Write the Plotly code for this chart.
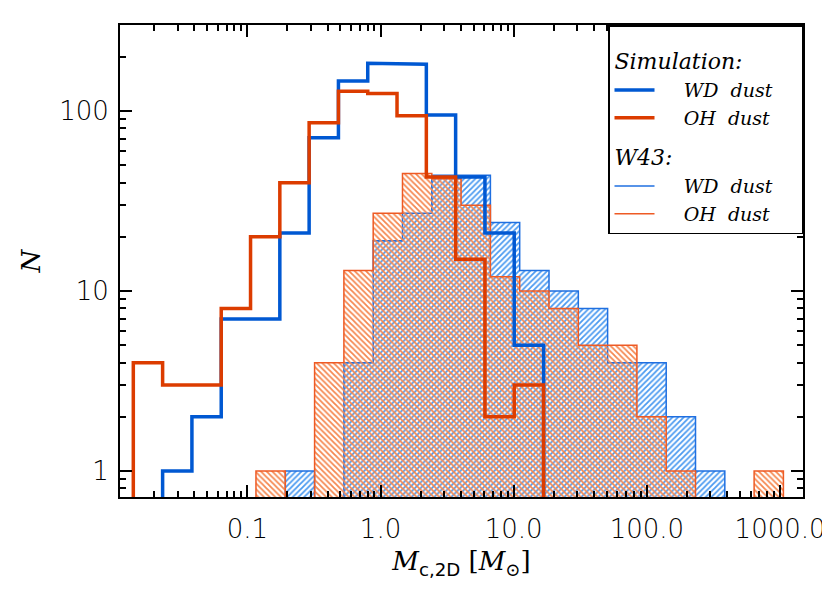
import plotly.graph_objects as go

# bin edges (solar masses)
sim_edges = [0.01393, 0.02312, 0.03837, 0.06368, 0.1057, 0.1754, 0.2911, 0.4831,
             0.8017, 1.330, 2.208, 3.664, 6.081, 10.09, 16.75]
w43_edges = [0.1161, 0.1928, 0.3199, 0.5309, 0.8810, 1.462, 2.427, 4.027, 6.683,
             11.09, 18.41, 30.55, 50.70, 84.14, 139.6, 231.7, 384.6, 638.3, 1059.0]

# counts per bin
sim_wd = [0, 1, 2, 7, 7, 21, 71, 147, 184, 182, 95, 43, 21, 5]
sim_oh = [4, 3, 3, 8, 20, 40, 86, 129, 125, 94, 43, 15, 2, 3]
w43_wd = [0, 1, 0, 4, 19, 27, 44, 44, 24, 13, 10, 8, 4, 4, 2, 1, 0, 0]
w43_oh = [1, 0, 4, 13, 27, 45, 42, 30, 12, 10, 8, 5, 5, 2, 1, 0, 0, 1]

x_ticks = [0.1, 1, 10, 100, 1000]
x_ticktext = ["0.1", "1.0", "10.0", "100.0", "1000.0"]
y_ticks = [1, 10, 100]
y_ticktext = ["1", "10", "100"]

BLUE = "#0058d2"
RED = "#dc3c00"
BLUE_THIN = "#1f6fe0"
RED_THIN = "#ee5a24"
BLUE_HATCH = "#4b9af0"
RED_HATCH = "#f5874f"

FLOOR = 0.5  # zero bins drop below the axis
NB = "\u00a0"


def steps(edges, counts):
    xs, ys = [edges[0]], [FLOOR]
    for i, c in enumerate(counts):
        v = c if c > 0 else FLOOR
        xs += [edges[i], edges[i + 1]]
        ys += [v, v]
    xs.append(edges[-1])
    ys.append(FLOOR)
    return xs, ys


fig = go.Figure()

for counts, col, hcol, shape in [(w43_wd, BLUE_THIN, BLUE_HATCH, "/"),
                                 (w43_oh, RED_THIN, RED_HATCH, "\\")]:
    xs, ys = steps(w43_edges, counts)
    fig.add_trace(go.Scatter(
        x=xs, y=ys, mode="lines", fill="toself",
        fillcolor="rgba(0,0,0,0)",
        fillpattern=dict(shape=shape, fgcolor=hcol, bgcolor="rgba(0,0,0,0)",
                         size=4, solidity=0.45, fillmode="replace"),
        line=dict(color=col, width=1.5), showlegend=False, hoverinfo="skip"))

for counts, col in [(sim_wd, BLUE), (sim_oh, RED)]:
    xs, ys = steps(sim_edges, counts)
    fig.add_trace(go.Scatter(x=xs, y=ys, mode="lines",
                             line=dict(color=col, width=3.5),
                             showlegend=False, hoverinfo="skip"))

# legend entries
legend_items = [("sim", "Simulation:", "WD  dust", BLUE, 3.5),
                ("sim", "Simulation:", "OH  dust", RED, 3.5),
                ("w43", "W43:", "WD  dust", BLUE_THIN, 1.5),
                ("w43", "W43:", "OH  dust", RED_THIN, 1.5)]
for grp, title, name, col, w in legend_items:
    fig.add_trace(go.Scatter(x=[None], y=[None], mode="lines",
                             name=NB * 4 + name.replace(" ", NB) + NB * 4,
                             legendgroup=grp,
                             legendgrouptitle=dict(text=title, font=dict(
                                 family="DejaVu Serif", size=22, style="italic", color="black")),
                             line=dict(color=col, width=w)))

minor_vals = [m * 10 ** d for d in range(-2, 4) for m in range(2, 10)]

axis_common = dict(type="log", showline=True, linecolor="black", linewidth=2,
                   mirror="ticks", ticks="inside", ticklen=12, tickwidth=2,
                   tickcolor="black", showgrid=False, zeroline=False, automargin=False,
                   ticklabeloverflow="allow",
                   tickfont=dict(family="DejaVu Sans", size=26, color="black", weight=200))

# the page body adds an 8px offset, so the figure is sized 8px smaller
fig.update_layout(
    width=822, height=586,
    margin=dict(l=112, r=27, t=17, b=97),
    paper_bgcolor="white", plot_bgcolor="white",
    xaxis=dict(range=[-1.956, 3.172], tickmode="array", tickvals=x_ticks,
               ticktext=x_ticktext, ticklabelstandoff=8,
               minor=dict(tickmode="array", tickvals=minor_vals, ticks="inside",
                          ticklen=6, tickwidth=1.5, tickcolor="black"),
               title=dict(text="<i>M</i><sub><span style='font-family:DejaVu Sans'>c,2D</span></sub>"
                               " [<i>M</i><sub>⊙</sub>]",
                          font=dict(family="DejaVu Serif", size=26, color="black"),
                          standoff=9),
               **axis_common),
    yaxis=dict(range=[-0.1445, 2.478], tickmode="array", tickvals=y_ticks,
               ticktext=y_ticktext, ticklabelstandoff=4,
               minor=dict(tickmode="array", tickvals=minor_vals, ticks="inside",
                          ticklen=6, tickwidth=1.5, tickcolor="black"),
               title=dict(text="<i>N</i>",
                          font=dict(family="DejaVu Serif", size=26, color="black"),
                          standoff=11),
               **axis_common),
    legend=dict(x=1, xanchor="right", y=1, yanchor="top",
                bgcolor="white", bordercolor="black", borderwidth=1.5,
                title=dict(text=" ", font=dict(size=10)),
                font=dict(family="DejaVu Serif", size=19, style="italic", color="black"),
                traceorder="grouped", tracegroupgap=9, itemwidth=40),
)

fig.write_html("out.html")
